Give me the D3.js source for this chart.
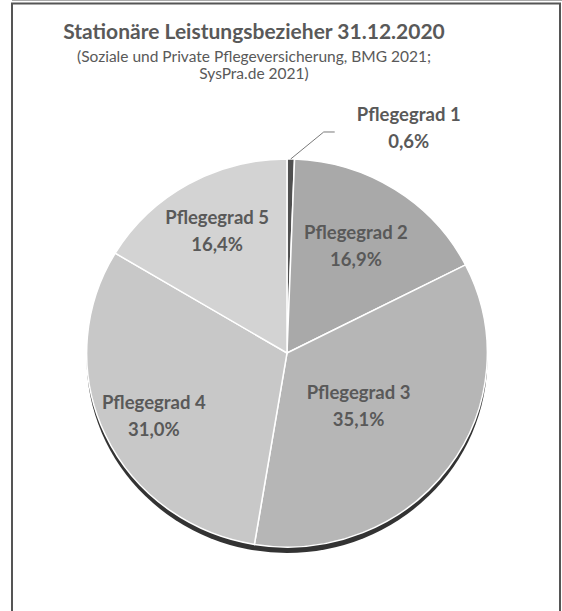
<!DOCTYPE html>
<html>
<head>
<meta charset="utf-8">
<script src="https://cdn.jsdelivr.net/npm/d3@7"></script>
<style>
  body { margin: 0; background: #fff; }
  text { font-family: Lato, "Open Sans", sans-serif; }
</style>
</head>
<body>
<div id="chart"></div>
<script>
const categories = ["Pflegegrad 1", "Pflegegrad 2", "Pflegegrad 3", "Pflegegrad 4", "Pflegegrad 5"];
const values = [0.6, 16.9, 35.1, 31.0, 16.4];
const colors = ["#505050", "#a9a9a9", "#b6b6b6", "#c8c8c8", "#d3d3d3"];
const title = "Stationäre Leistungsbezieher 31.12.2020";
const subtitle = ["(Soziale und Private Pflegeversicherung, BMG 2021;", "SysPra.de 2021)"];

// label distance from centre, as share of the radius (Excel "best fit" look)
const labelR = { "Pflegegrad 2": 0.65, "Pflegegrad 3": 0.45, "Pflegegrad 4": 0.745, "Pflegegrad 5": 0.72 };

const W = 562, H = 611;
const cx = 287, cy = 353, r = 197;

const svg = d3.select("#chart")
  .append("svg")
  .attr("width", W)
  .attr("height", H);

// frame
svg.append("line")
  .attr("x1", 12).attr("x2", W).attr("y1", 0.5).attr("y2", 0.5)
  .attr("stroke", "#aaa").attr("stroke-width", 1);
svg.append("rect")
  .attr("x", 12).attr("y", 3.5)
  .attr("width", 548).attr("height", 640)
  .attr("fill", "none")
  .attr("stroke", "#555")
  .attr("stroke-width", 2);

// titles
svg.append("text")
  .attr("x", 254).attr("y", 39)
  .attr("text-anchor", "middle")
  .style("font-size", "21px")
  .style("font-weight", "bold")
  .style("fill", "#595959")
  .text(title);

svg.selectAll("text.sub")
  .data(subtitle)
  .join("text")
  .attr("class", "sub")
  .attr("x", 254)
  .attr("y", (d, i) => 62 + i * 17)
  .attr("text-anchor", "middle")
  .style("font-size", "15.5px")
  .style("fill", "#595959")
  .text(d => d);

const color = d3.scaleOrdinal().domain(categories).range(colors);

const pie = d3.pie().sort(null).value(d => d.value);
const arcs = pie(categories.map((c, i) => ({ name: c, value: values[i] })));

const arc = d3.arc().innerRadius(0).outerRadius(r);

const g = svg.append("g").attr("transform", `translate(${cx},${cy})`);
const pg = g.append("g").attr("transform", "scale(1.017,0.985)");

// shadow under the pie
pg.append("circle")
  .attr("cx", 0).attr("cy", 6).attr("r", r)
  .attr("fill", "#333");

pg.selectAll("path.slice")
  .data(arcs)
  .join("path")
  .attr("class", "slice")
  .attr("d", arc)
  .attr("fill", d => color(d.data.name))
  .attr("stroke", "#fff")
  .attr("stroke-width", 1.5);

const fmt = v => v.toFixed(1).replace(".", ",") + "%";

// inner labels
const inner = arcs.slice(1);
const lbl = g.selectAll("g.lbl")
  .data(inner)
  .join("g")
  .attr("class", "lbl")
  .attr("transform", d => {
    const k = r * labelR[d.data.name];
    return `translate(${d3.arc().innerRadius(k).outerRadius(k).centroid(d)})`;
  });

lbl.append("text")
  .attr("y", -6)
  .attr("text-anchor", "middle")
  .style("font-size", "18.5px")
  .style("font-weight", "bold")
  .style("fill", "#595959")
  .text(d => d.data.name);

lbl.append("text")
  .attr("y", 21)
  .attr("text-anchor", "middle")
  .style("font-size", "18.5px")
  .style("font-weight", "bold")
  .style("fill", "#595959")
  .text(d => fmt(d.data.value));

// outside label for the small slice with leader line
const small = arcs[0];
const edge = d3.arc().innerRadius(r).outerRadius(r).centroid(small);
edge[1] *= 0.985;
const bend = [edge[0] + 33, edge[1] - 27];
const end = [bend[0] + 11, bend[1]];
g.append("polyline")
  .attr("points", [edge, bend, end].map(p => p.join(",")).join(" "))
  .attr("fill", "none")
  .attr("stroke", "#7a7a7a")
  .attr("stroke-width", 1);

g.append("text")
  .attr("x", end[0] + 74).attr("y", end[1] - 11)
  .attr("text-anchor", "middle")
  .style("font-size", "18.5px")
  .style("font-weight", "bold")
  .style("fill", "#595959")
  .text(small.data.name);

g.append("text")
  .attr("x", end[0] + 74).attr("y", end[1] + 16)
  .attr("text-anchor", "middle")
  .style("font-size", "18.5px")
  .style("font-weight", "bold")
  .style("fill", "#595959")
  .text(fmt(small.data.value));
</script>
</body>
</html>
